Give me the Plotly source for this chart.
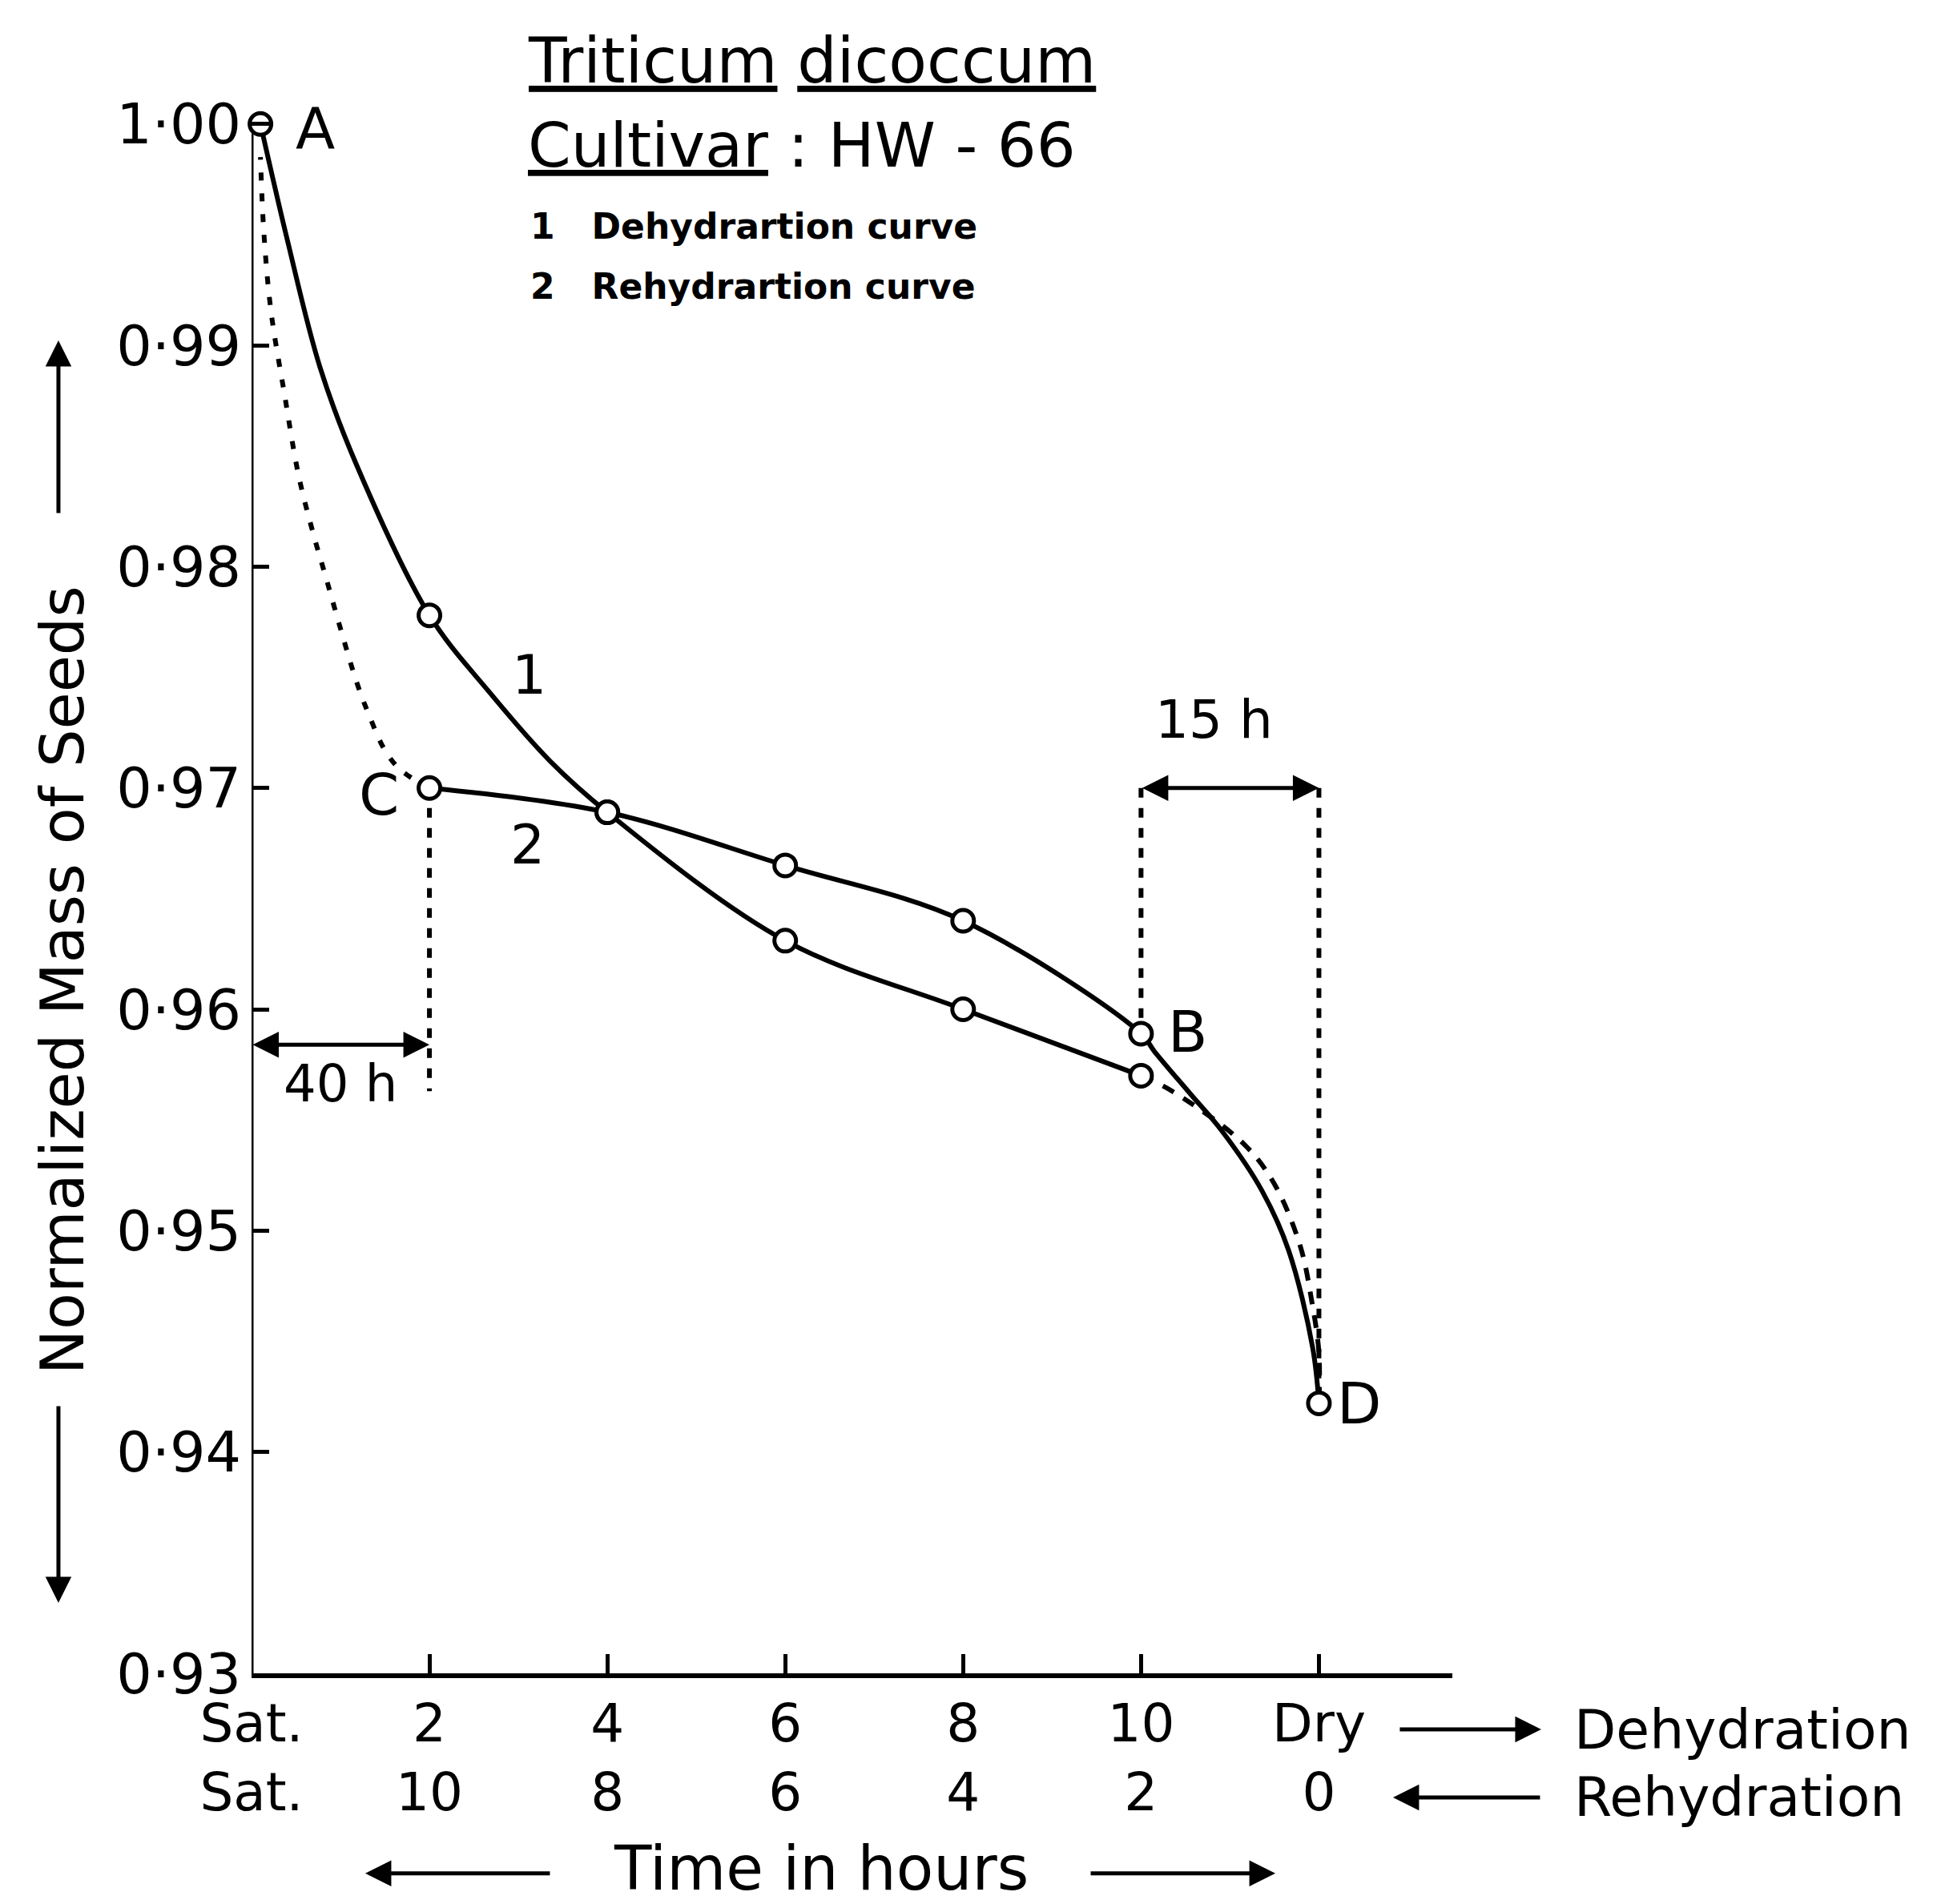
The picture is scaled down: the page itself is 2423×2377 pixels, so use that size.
import plotly.graph_objects as go

# ---------------- data ----------------
# x positions on the shared time axis: Sat.=0, 2, 4, 6, 8, 10, Dry=12 (dehydration hours)
tick_vals = [0, 2, 4, 6, 8, 10, 12]
dehyd_ticks = ["Sat.", "2", "4", "6", "8", "10", "Dry"]
rehyd_ticks = ["Sat.", "10", "8", "6", "4", "2", "0"]
y_tick_vals = [0.93, 0.94, 0.95, 0.96, 0.97, 0.98, 0.99, 1.00]
y_tick_text = ["0·93", "0·94", "0·95", "0·96", "0·97", "0·98", "0·99", "1·00"]

# measured points (open circles)
dehyd_pt_x = [0.1, 2, 4, 6, 8, 10]
dehyd_pt_y = [1.000, 0.9778, 0.9689, 0.9631, 0.9600, 0.9570]
rehyd_pt_x = [12, 10, 8, 6, 4, 2]
rehyd_pt_y = [0.9422, 0.9589, 0.9640, 0.9665, 0.9689, 0.9700]

# curve paths
dehyd_solid_x = [0.1, 0.40, 0.77, 1.18, 2, 2.68, 3.36, 4, 6, 8, 10]
dehyd_solid_y = [1.000, 0.9948, 0.9890, 0.9846, 0.9778,
                 0.9743, 0.9712, 0.9689, 0.9631, 0.9600, 0.9570]
dehyd_dash_x = [10, 10.35, 11.16, 11.5, 11.79, 11.92, 12, 12]
dehyd_dash_y = [0.9570, 0.9563, 0.9539, 0.9521, 0.9493, 0.9468, 0.9445, 0.9422]

rehyd_solid_x = [12, 11.93, 11.66, 11.36, 10.91, 10.55, 10.15, 10, 8, 6, 4, 2]
rehyd_solid_y = [0.9422, 0.9447, 0.9491, 0.9518, 0.9545, 0.9562, 0.9581,
                 0.9589, 0.9640, 0.9665, 0.9689, 0.9700]
rehyd_dot_x = [2, 1.68, 1.5, 1.32, 1.18, 1.0, 0.83, 0.70, 0.53, 0.37, 0.22, 0.14, 0.1]
rehyd_dot_y = [0.9700, 0.9708, 0.9717, 0.9733, 0.9748, 0.9772, 0.9796, 0.9814,
               0.9841, 0.9878, 0.9915, 0.9950, 0.9985]

# guide lines for the time intervals
guide_40h_x = [2, 2]
guide_40h_y = [0.9700, 0.9563]
guide_15h_left_x = [10, 10]
guide_15h_left_y = [0.9700, 0.9592]
guide_15h_right_x = [12, 12]
guide_15h_right_y = [0.9700, 0.9432]

FONT = "DejaVu Sans"
BLK = "black"
LW = 6

fig = go.Figure()

def line(x, y, dash="solid", shape="spline", width=LW):
    fig.add_trace(go.Scatter(x=x, y=y, mode="lines",
                             line=dict(color=BLK, width=width, dash=dash, shape=shape,
                                       smoothing=1.0),
                             showlegend=False, hoverinfo="skip", cliponaxis=False))

line(dehyd_solid_x, dehyd_solid_y)
line(dehyd_dash_x, dehyd_dash_y, dash="16px,14px")
line(rehyd_solid_x, rehyd_solid_y)
line(rehyd_dot_x, rehyd_dot_y, dash="10px,16px")
line(guide_40h_x, guide_40h_y, dash="12px,13px", shape="linear")
line(guide_15h_left_x, guide_15h_left_y, dash="12px,13px", shape="linear")
line(guide_15h_right_x, guide_15h_right_y, dash="12px,13px", shape="linear")

for xs, ys in [(dehyd_pt_x, dehyd_pt_y), (rehyd_pt_x, rehyd_pt_y)]:
    fig.add_trace(go.Scatter(x=xs, y=ys, mode="markers",
                             marker=dict(symbol="circle", size=27, color="white",
                                         line=dict(color=BLK, width=5)),
                             showlegend=False, hoverinfo="skip", cliponaxis=False))

# y-axis line (from 0.93 to 1.00)
fig.add_shape(type="line", x0=0, x1=0, y0=0.93, y1=1.0, xref="x", yref="y",
              line=dict(color=BLK, width=5), layer="below")

ann = []
def text(x, y, s, size=70, xref="x", yref="y", xanchor="center", yanchor="middle",
         angle=0, bold=False):
    ann.append(dict(x=x, y=y, xref=xref, yref=yref, text=(f"<b>{s}</b>" if bold else s),
                    showarrow=False, xanchor=xanchor, yanchor=yanchor, textangle=angle,
                    font=dict(family=FONT, size=size, color=BLK)))

# point letters and curve numbers
text(0.72, 0.9998, "A", size=72)
text(1.43, 0.9697, "C", size=72)
text(10.52, 0.9590, "B", size=72)
text(12.45, 0.9422, "D", size=72)
text(3.12, 0.9751, "1", size=68)
text(3.1, 0.96745, "2", size=68)
text(10.82, 0.9731, "15 h", size=66)
text(1.0, 0.95665, "40 h", size=64)

# interval double arrows
for (x0, x1, yv) in [(0, 2, 0.9584), (10, 12, 0.970)]:
    ann.append(dict(x=x1, y=yv, ax=x0, ay=yv, xref="x", yref="y", axref="x", ayref="y",
                    text="", showarrow=True, arrowhead=2, arrowsize=1.3, arrowwidth=5,
                    arrowside="end+start", arrowcolor=BLK, standoff=0, startstandoff=0))

# title block
text(0.229, 0.991, "<u>Triticum</u> <u>dicoccum</u>", size=78, xref="paper", yref="paper",
     xanchor="left")
text(0.229, 0.939, "<u>Cultivar</u> : HW - 66", size=77, xref="paper", yref="paper",
     xanchor="left")
text(0.231, 0.8893, "1   Dehydrartion curve", size=44, xref="paper", yref="paper",
     xanchor="left", bold=True)
text(0.231, 0.8524, "2   Rehydrartion curve", size=44, xref="paper", yref="paper",
     xanchor="left", bold=True)

# axis direction labels
text(1.100, -0.0345, "Dehydration", size=68, xref="paper", yref="paper", xanchor="left")
text(1.100, -0.0763, "Rehydration", size=68, xref="paper", yref="paper", xanchor="left")
text(0.4743, -0.1200, "Time in hours", size=76, xref="paper", yref="paper")
text(-0.1574, 0.4259, "Normalized Mass of Seeds", size=75, xref="paper", yref="paper",
     angle=-90)

def parrow(x, y, ax, ay):
    ann.append(dict(x=x, y=y, xref="paper", yref="paper", ax=ax, ay=ay, text="",
                    showarrow=True, arrowhead=2, arrowsize=1.3, arrowwidth=5,
                    arrowcolor=BLK, standoff=0))

parrow(1.074, -0.0345, -178, 0)
parrow(0.9506, -0.0763, 185, 0)
parrow(0.0947, -0.1230, 232, 0)
parrow(0.8526, -0.1230, -232, 0)
parrow(-0.1608, 0.8193, 0, 217)
parrow(-0.1608, 0.0433, 0, -247)

fig.update_layout(
    width=2423, height=2377,
    margin=dict(l=306, r=618, t=50, b=296, pad=0),
    paper_bgcolor="white", plot_bgcolor="white",
    annotations=ann,
    font=dict(family=FONT, color=BLK),
    xaxis=dict(range=[0, 13.5], showgrid=False, zeroline=False,
               showline=True, linecolor=BLK, linewidth=6,
               ticks="inside", ticklen=24, tickwidth=5, tickcolor=BLK,
               tickvals=tick_vals,
               ticktext=[f"{a}<br>{b}" for a, b in zip(dehyd_ticks, rehyd_ticks)],
               tickfont=dict(family=FONT, size=66, color=BLK)),
    yaxis=dict(range=[0.93, 1.0035], showgrid=False, zeroline=False, showline=False,
               ticks="inside", ticklen=22, tickwidth=5, tickcolor=BLK,
               ticklabelstandoff=12,
               tickvals=y_tick_vals, ticktext=y_tick_text,
               tickfont=dict(family=FONT, size=70, color=BLK)),
)

fig.write_html("out.html")
